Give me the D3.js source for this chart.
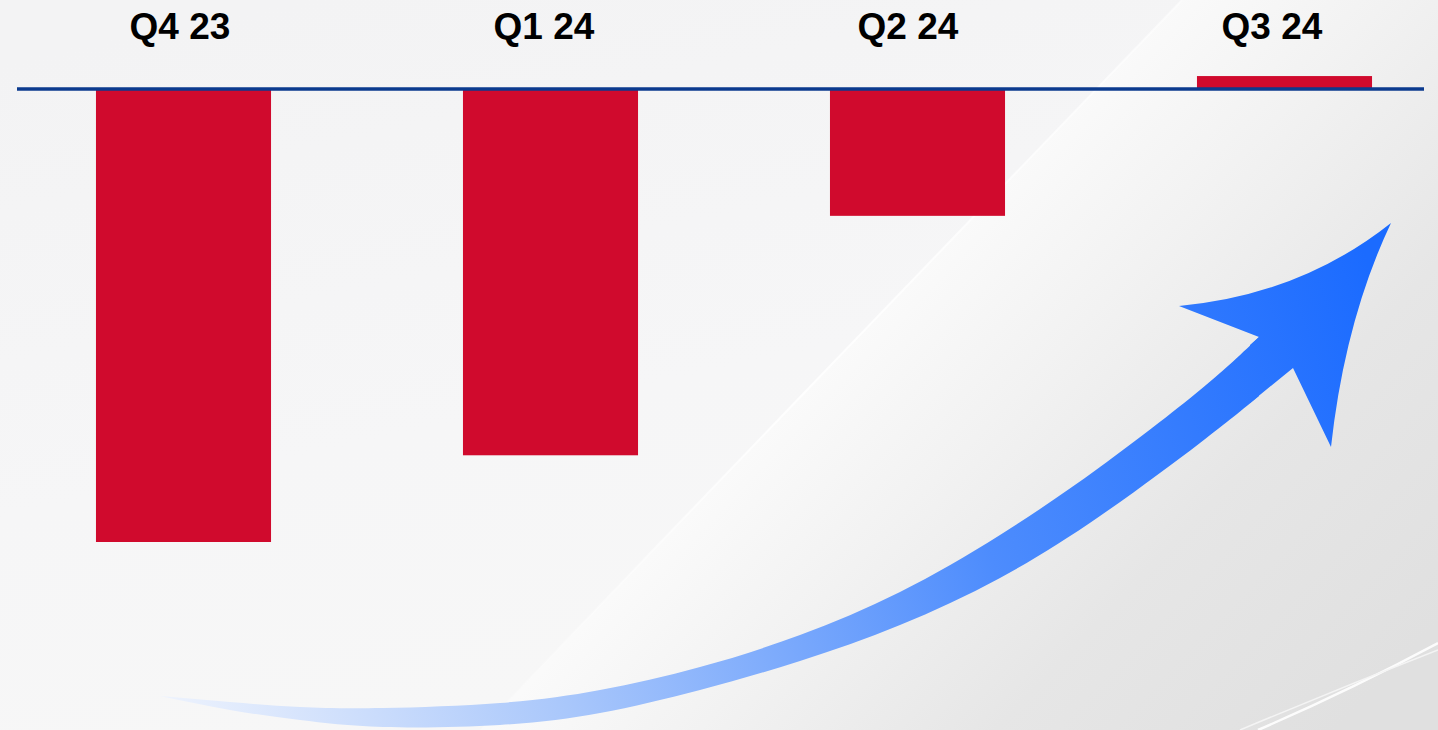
<!DOCTYPE html>
<html>
<head>
<meta charset="utf-8">
<script src="https://cdn.jsdelivr.net/npm/d3@7"></script>
<style>
  html, body { margin: 0; padding: 0; background: #f3f3f4; overflow: hidden; }
  .quarter-label { font-family: "Liberation Sans", Arial, sans-serif; font-weight: bold; font-size: 37px; fill: #000; }
</style>
</head>
<body>
<div id="chart"></div>
<script>
// data
const quarters = ["Q4 23", "Q1 24", "Q2 24", "Q3 24"];
const values = [-35, -28.3, -9.8, 1.0];

const width = 1438;
const height = 730;

const svg = d3.select("#chart")
    .append("svg")
    .attr("width", width)
    .attr("height", height);

const defs = svg.append("defs");

// background shading
const bgLeft = defs.append("linearGradient")
    .attr("id", "bgLeft")
    .attr("gradientUnits", "userSpaceOnUse")
    .attr("x1", 300).attr("y1", 0)
    .attr("x2", 450).attr("y2", 730);
bgLeft.append("stop").attr("offset", "0%").attr("stop-color", "#f3f3f4");
bgLeft.append("stop").attr("offset", "60%").attr("stop-color", "#f6f6f7");
bgLeft.append("stop").attr("offset", "100%").attr("stop-color", "#f7f7f7");

const bgRight = defs.append("linearGradient")
    .attr("id", "bgRight")
    .attr("gradientUnits", "userSpaceOnUse")
    .attr("x1", 830).attr("y1", 365)
    .attr("x2", 1280).attr("y2", 790);
bgRight.append("stop").attr("offset", "0%").attr("stop-color", "#fafafa");
bgRight.append("stop").attr("offset", "25%").attr("stop-color", "#f2f2f2");
bgRight.append("stop").attr("offset", "60%").attr("stop-color", "#e6e6e6");
bgRight.append("stop").attr("offset", "100%").attr("stop-color", "#e0e0e0");

svg.append("rect")
    .attr("width", width).attr("height", height)
    .attr("fill", "url(#bgLeft)");

// lighter panel to the right of the diagonal
svg.append("path")
    .attr("d", "M1182,0 L1438,0 L1438,730 L480,730 Z")
    .attr("fill", "url(#bgRight)");

const edgeGrad = defs.append("linearGradient")
    .attr("id", "edgeGrad")
    .attr("gradientUnits", "userSpaceOnUse")
    .attr("x1", 1182).attr("y1", 0)
    .attr("x2", 480).attr("y2", 730);
edgeGrad.append("stop").attr("offset", "0%").attr("stop-color", "#ffffff").attr("stop-opacity", 0.5);
edgeGrad.append("stop").attr("offset", "55%").attr("stop-color", "#ffffff").attr("stop-opacity", 0.9);
edgeGrad.append("stop").attr("offset", "100%").attr("stop-color", "#ffffff").attr("stop-opacity", 0);

svg.append("path")
    .attr("d", "M1182,0 L480,730")
    .attr("stroke", "url(#edgeGrad)")
    .attr("stroke-width", 2);

// white streak lower right
svg.append("path")
    .attr("d", "M1258,730 Q1350,690 1438,643")
    .attr("fill", "none")
    .attr("stroke", "#ffffff")
    .attr("stroke-width", 2.5)
    .attr("opacity", 0.9);
svg.append("path")
    .attr("d", "M1240,730 Q1340,688 1438,650")
    .attr("fill", "none")
    .attr("stroke", "#f4f4f4")
    .attr("stroke-width", 1.5);

// arrow
const arrowGrad = defs.append("linearGradient")
    .attr("id", "arrowGrad")
    .attr("gradientUnits", "userSpaceOnUse")
    .attr("x1", 160).attr("y1", 700)
    .attr("x2", 1380).attr("y2", 300);
arrowGrad.append("stop").attr("offset", "0%").attr("stop-color", "#eef3fd");
arrowGrad.append("stop").attr("offset", "30%").attr("stop-color", "#a9c7fb");
arrowGrad.append("stop").attr("offset", "65%").attr("stop-color", "#4d8cfd");
arrowGrad.append("stop").attr("offset", "100%").attr("stop-color", "#1b6bff");

// shaft outline: [x, lower edge y, upper edge y]
const shaftOutline = [
    [160, 696, 696], [230, 710, 702], [300, 720, 707], [383, 727, 708],
    [500, 725, 703], [600, 713, 690], [700, 690, 667], [800, 661, 635],
    [900, 625, 592], [1000, 578, 535], [1100, 516, 467], [1200, 443, 390],
    [1259, 396, 337]
];

const shaftArea = d3.area()
    .x(d => d[0])
    .y0(d => d[1])
    .y1(d => d[2])
    .curve(d3.curveNatural);

svg.append("path")
    .attr("d", shaftArea(shaftOutline))
    .attr("fill", "url(#arrowGrad)");

svg.append("path")
    .attr("d", "M1250,345 L1259,337 L1179,306 Q1300,295 1391,223 Q1345,320 1331,447 L1293,368 L1250,403 Z")
    .attr("fill", "url(#arrowGrad)");

// scales
const xScale = d3.scaleBand()
    .domain(quarters)
    .range([0, 1468])
    .paddingInner(0.523)
    .paddingOuter(0.2615);

const labelScale = d3.scalePoint()
    .domain(quarters)
    .range([180, 1272]);

const yScale = d3.scaleLinear()
    .domain([-35, 0])
    .range([542, 89]);

// bars
svg.append("g")
    .selectAll("rect")
    .data(values)
    .join("rect")
    .attr("x", (d, i) => xScale(quarters[i]))
    .attr("y", d => yScale(Math.max(0, d)))
    .attr("width", xScale.bandwidth())
    .attr("height", d => Math.abs(yScale(d) - yScale(0)))
    .attr("fill", "#d00a2d");

// zero line
svg.append("line")
    .attr("x1", 17).attr("x2", 1424)
    .attr("y1", yScale(0)).attr("y2", yScale(0))
    .attr("stroke", "#0b3a8e")
    .attr("stroke-width", 3.5);

// quarter labels
svg.append("g")
    .selectAll("text")
    .data(quarters)
    .join("text")
    .attr("class", "quarter-label")
    .attr("x", d => labelScale(d))
    .attr("y", 39)
    .attr("text-anchor", "middle")
    .text(d => d);
</script>
</body>
</html>
